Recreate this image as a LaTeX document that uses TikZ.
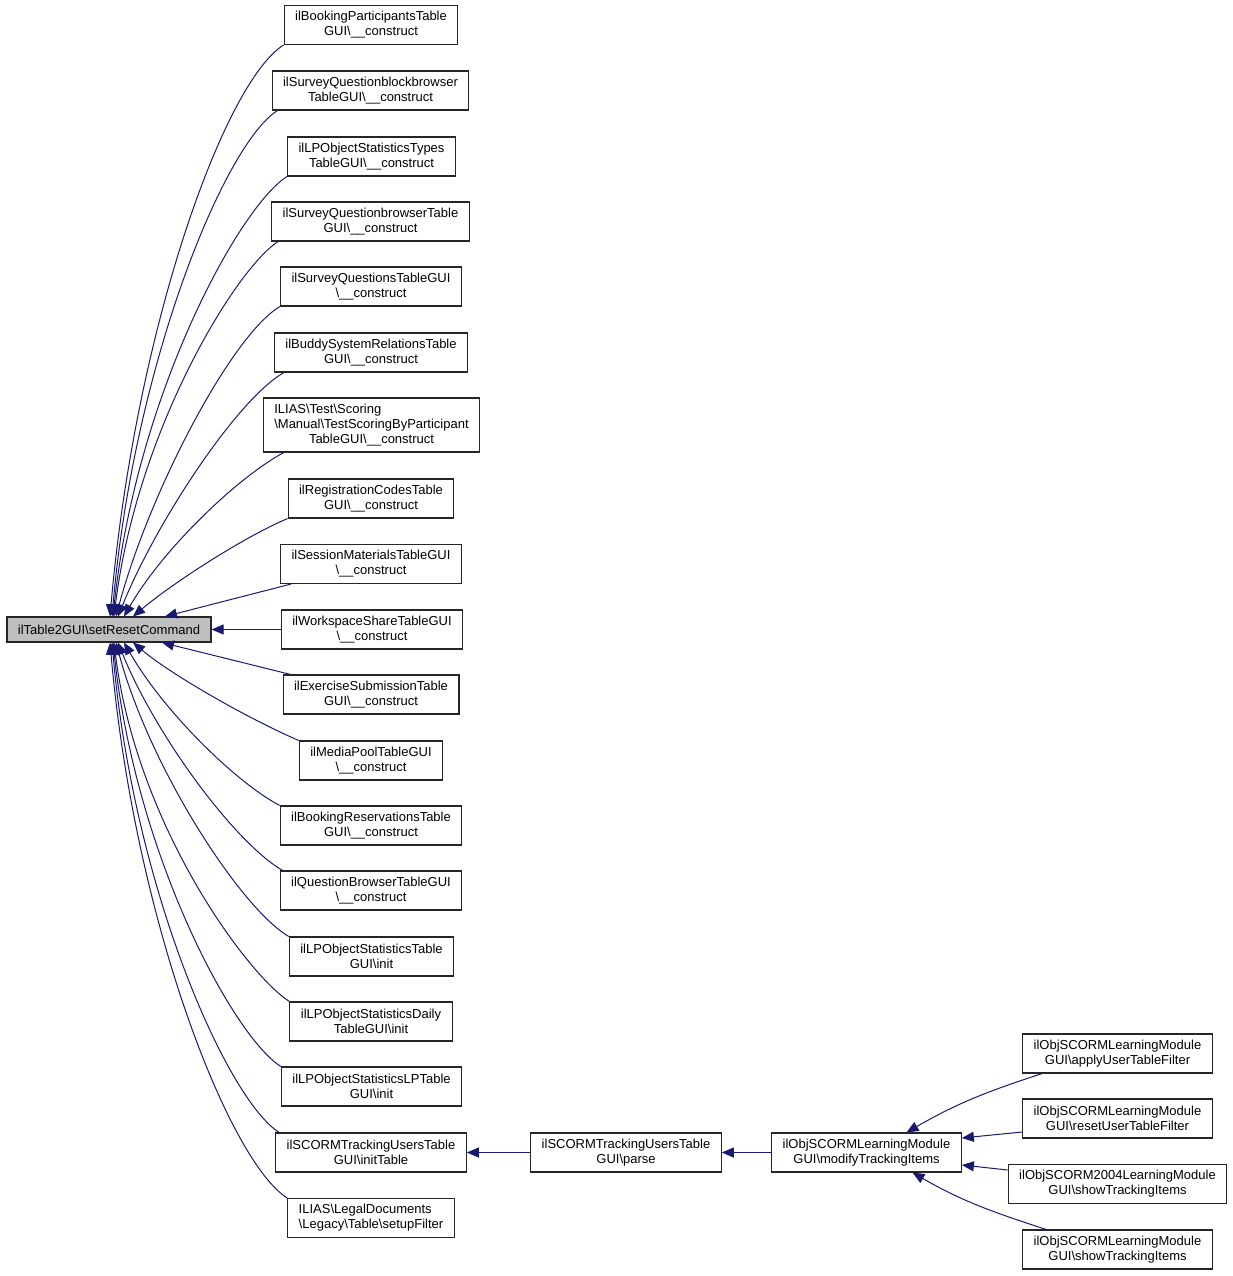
\documentclass[tikz,border=0pt]{standalone}
\usepackage{fontspec}
\setmainfont{Liberation Sans}
\usetikzlibrary{arrows.meta}
\definecolor{edgeblue}{HTML}{191970}
\definecolor{mainfill}{HTML}{BFBFBF}
\newcommand{\bsl}{\textbackslash}

\begin{document}
\begin{tikzpicture}[x=1pt, y=1pt,
  box/.style = {draw=black!85, line width=1.1pt, align=center, inner xsep=11pt, inner ysep=2pt, minimum height=39pt, font=\fontsize{13}{15}\selectfont},
  link/.style = {every edge/.style={draw=edgeblue, line width=1pt, -{Triangle[length=12pt,width=10pt]}}}]
  \useasboundingbox (0,0) rectangle (1232,-1276);

  \node[box, fill=mainfill, minimum height=25pt] (reset) at (109,-629.5) {ilTable2GUI\bsl setResetCommand};

  \node[box] (bookpart)  at (371,-25)    {ilBookingParticipantsTable\\GUI\bsl\_\_construct};
  \node[box] (svblock)   at (370.5,-90.5) {ilSurveyQuestionblockbrowser\\TableGUI\bsl\_\_construct};
  \node[box] (lptypes)   at (371.5,-156.5) {ilLPObjectStatisticsTypes\\TableGUI\bsl\_\_construct};
  \node[box] (svbrowse)  at (370.5,-221.5) {ilSurveyQuestionbrowserTable\\GUI\bsl\_\_construct};
  \node[box] (svquest)   at (371,-286.5)  {ilSurveyQuestionsTableGUI\\\bsl\_\_construct};
  \node[box] (buddy)     at (371,-352.5)  {ilBuddySystemRelationsTable\\GUI\bsl\_\_construct};
  \node[box, minimum height=54pt] (scoring) at (371.5,-425)
    {\begin{tabular}{@{}l@{}}ILIAS\bsl Test\bsl Scoring\\\bsl Manual\bsl TestScoringByParticipant\\\multicolumn{1}{@{}c@{}}{TableGUI\bsl\_\_construct}\end{tabular}};
  \node[box] (regcodes)  at (371,-498.5)  {ilRegistrationCodesTable\\GUI\bsl\_\_construct};
  \node[box] (sessmat)   at (371,-564)    {ilSessionMaterialsTableGUI\\\bsl\_\_construct};
  \node[box] (workshare) at (372,-629.5)  {ilWorkspaceShareTableGUI\\\bsl\_\_construct};
  \node[box] (exsubm)    at (371,-694.5)  {ilExerciseSubmissionTable\\GUI\bsl\_\_construct};
  \node[box] (mediapool) at (371,-760.5)  {ilMediaPoolTableGUI\\\bsl\_\_construct};
  \node[box] (bookres)   at (371,-825.5)  {ilBookingReservationsTable\\GUI\bsl\_\_construct};
  \node[box] (qbrowse)   at (371,-890.5)  {ilQuestionBrowserTableGUI\\\bsl\_\_construct};
  \node[box] (lpstat)    at (371.5,-956.5) {ilLPObjectStatisticsTable\\GUI\bsl init};
  \node[box] (lpdaily)   at (371,-1021.5) {ilLPObjectStatisticsDaily\\TableGUI\bsl init};
  \node[box] (lplp)      at (371.5,-1086.5) {ilLPObjectStatisticsLPTable\\GUI\bsl init};
  \node[box] (scinit)    at (371,-1152.5) {ilSCORMTrackingUsersTable\\GUI\bsl initTable};
  \node[box, align=left] (legal) at (371,-1218) {ILIAS\bsl LegalDocuments\\\bsl Legacy\bsl Table\bsl setupFilter};

  \node[box] (scparse)   at (626,-1152.5)  {ilSCORMTrackingUsersTable\\GUI\bsl parse};
  \node[box] (modify)    at (866.5,-1152.5) {ilObjSCORMLearningModule\\GUI\bsl modifyTrackingItems};
  \node[box] (applyf)    at (1117.5,-1053.5) {ilObjSCORMLearningModule\\GUI\bsl applyUserTableFilter};
  \node[box] (resetf)    at (1117.5,-1118.5) {ilObjSCORMLearningModule\\GUI\bsl resetUserTableFilter};
  \node[box] (show2004)  at (1117.5,-1184)   {ilObjSCORM2004LearningModule\\GUI\bsl showTrackingItems};
  \node[box] (showlm)    at (1117.5,-1249.5) {ilObjSCORMLearningModule\\GUI\bsl showTrackingItems};

  % callers above
  \path[link]
    (bookpart.south west)            edge[out=212, in=85, out distance=70pt, in distance=288pt] ([xshift=1pt]reset.north)
    ([xshift=6pt]svblock.south west) edge[out=212, in=85, out distance=62pt, in distance=255pt] ([xshift=3pt]reset.north)
    (lptypes.south west)             edge[out=212, in=84, out distance=55pt, in distance=225pt] ([xshift=4pt]reset.north)
    ([xshift=7pt]svbrowse.south west) edge[out=212, in=83, out distance=48pt, in distance=190pt] ([xshift=5pt]reset.north)
    (svquest.south west)             edge[out=210, in=75, out distance=55pt, in distance=130pt] ([xshift=7pt]reset.north)
    ([xshift=10pt]buddy.south west)  edge[out=210, in=68, out distance=55pt, in distance=100pt] ([xshift=9pt]reset.north)
    ([xshift=21pt]scoring.south west) edge[out=208, in=60, out distance=50pt, in distance=80pt] ([xshift=15pt]reset.north)
    (regcodes.south west)            edge[out=203, in=40, out distance=50pt, in distance=50pt] ([xshift=24pt]reset.north)
    ([xshift=11pt]sessmat.south west) edge ([xshift=56pt]reset.north)
    (workshare.west)                 edge (reset.east);

  % callers below
  \path[link]
    ([xshift=8pt]exsubm.north west)  edge ([xshift=53pt]reset.south)
    (mediapool.north west)           edge[out=157, in=-40, out distance=50pt, in distance=52pt] ([xshift=24pt]reset.south)
    (bookres.north west)             edge[out=152, in=-60, out distance=50pt, in distance=80pt] ([xshift=15pt]reset.south)
    ([xshift=3pt]qbrowse.north west) edge[out=150, in=-68, out distance=55pt, in distance=100pt] ([xshift=9pt]reset.south)
    (lpstat.north west)              edge[out=150, in=-75, out distance=55pt, in distance=130pt] ([xshift=7pt]reset.south)
    (lpdaily.north west)             edge[out=148, in=-83, out distance=48pt, in distance=185pt] ([xshift=5pt]reset.south)
    (lplp.north west)                edge[out=148, in=-84, out distance=55pt, in distance=215pt] ([xshift=4pt]reset.south)
    ([xshift=4pt]scinit.north west)  edge[out=148, in=-85, out distance=60pt, in distance=250pt] ([xshift=3pt]reset.south)
    (legal.north west)               edge[out=148, in=-85, out distance=68pt, in distance=280pt] ([xshift=1pt]reset.south);

  % SCORM chain
  \path[link]
    (scparse.west) edge (scinit.east)
    (modify.west)  edge (scparse.east)
    ([xshift=20pt]applyf.south west) edge[out=198, in=30] ([xshift=40pt]modify.north)
    ([yshift=-13.5pt]resetf.west)    edge ([yshift=14.5pt]modify.east)
    ([yshift=14pt]show2004.west)     edge ([yshift=-12.5pt]modify.east)
    ([xshift=24pt]showlm.north west) edge[out=162, in=-30] ([xshift=46pt]modify.south);
\end{tikzpicture}
\end{document}
